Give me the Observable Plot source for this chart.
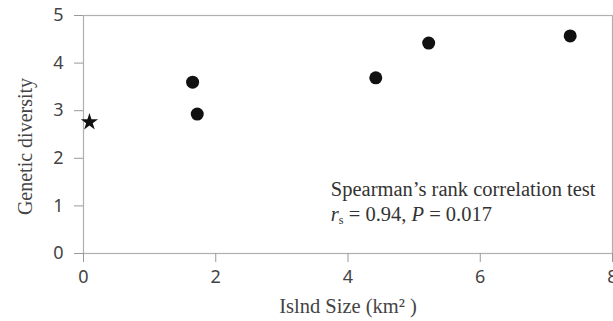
<!DOCTYPE html>
<html>
<head>
<meta charset="utf-8">
<script src="https://cdn.jsdelivr.net/npm/d3@7"></script>
<script src="https://cdn.jsdelivr.net/npm/@observablehq/plot@0.6"></script>
<style>
  html, body { margin: 0; padding: 0; background: #fff; }
  #chart svg { display: block; }
</style>
</head>
<body>
<div id="chart"></div>
<script>
// Island size (km²) and genetic diversity
const islandSize = [1.65, 1.72, 4.42, 5.22, 7.36];
const diversity  = [3.60, 2.93, 3.69, 4.42, 4.57];
// reference (star) point
const starSize = [0.09];
const starDiversity = [2.76];

const xTicks = [0, 2, 4, 6, 8];
const yTicks = [0, 1, 2, 3, 4, 5];

const xLabel = "Islnd Size (km\u00B2 )";
const yLabel = "Genetic diversity";
const noteLine1 = "Spearman\u2019s rank correlation test";
const noteLine2 = "rs = 0.94, P = 0.017";
const noteX = [3.74, 3.74];
const noteY = [1.35, 0.83];

const dots = islandSize.map((x, i) => ({x, y: diversity[i]}));
const stars = starSize.map((x, i) => ({x, y: starDiversity[i]}));
const notes = [noteLine1, noteLine2].map((t, i) => ({x: noteX[i], y: noteY[i], t}));

const serif = "'Liberation Serif', 'Times New Roman', serif";

const chart = Plot.plot({
  width: 613,
  height: 321,
  marginLeft: 83,
  marginRight: 1,
  marginTop: 15,
  marginBottom: 68,
  style: {background: "#fff", fontFamily: "'Noto Sans', sans-serif"},
  x: {domain: [0, 8], ticks: xTicks, label: null},
  y: {domain: [0, 5], ticks: yTicks, label: null},
  marks: [
    Plot.frame({stroke: "#b0b0b0", strokeWidth: 1.2}),
    Plot.axisX({ticks: xTicks, tickFormat: d3.format("d"), tickSize: 9, tickPadding: 8, fontSize: 18, color: "#444", stroke: "#999", label: null}),
    Plot.axisY({ticks: yTicks, tickFormat: d3.format("d"), tickSize: 9, tickPadding: 11, fontSize: 18, color: "#444", stroke: "#999", label: null}),
    Plot.dot(dots, {x: "x", y: "y", r: 6.5, fill: "#111", stroke: "none"}),
    Plot.dot(stars, {x: "x", y: "y", r: 5.4, symbol: "star", fill: "#111", stroke: "none"}),
    Plot.text(notes, {x: "x", y: "y", text: "t", textAnchor: "start", fontSize: 20.5, fill: "#333", fontFamily: serif}),
    Plot.text([xLabel], {frameAnchor: "bottom", textAnchor: "middle", text: d => d, dy: 59, fontSize: 20.5, fill: "#444", fontFamily: serif}),
    Plot.text([yLabel], {frameAnchor: "left", textAnchor: "middle", text: d => d, rotate: -90, dx: -58, dy: 12, fontSize: 20, fill: "#444", fontFamily: serif})
  ]
});

document.getElementById("chart").appendChild(chart);

// Rich formatting for the statistics line: italic r with subscript s, italic P
d3.select(chart).selectAll("text").filter(function() { return this.textContent === noteLine2; })
  .each(function() {
    const t = d3.select(this);
    t.text(null);
    t.append("tspan").attr("font-style", "italic").text("r");
    t.append("tspan").attr("font-size", "0.6em").attr("dy", "0.3em").text("s");
    t.append("tspan").attr("dy", "-0.18em").text(" = 0.94, ");
    t.append("tspan").attr("font-style", "italic").text("P");
    t.append("tspan").text(" = 0.017");
  });
</script>
</body>
</html>
